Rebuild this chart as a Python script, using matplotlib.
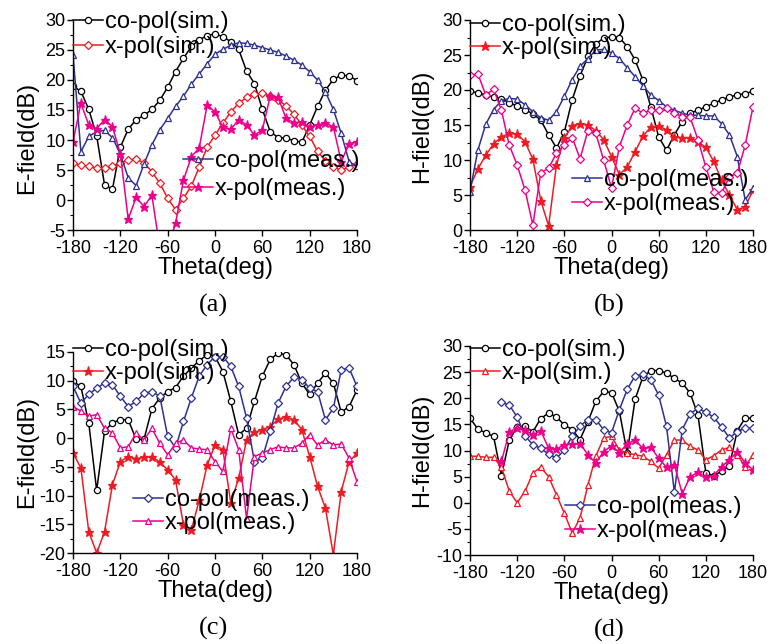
import numpy as np
import matplotlib.pyplot as plt
from matplotlib.ticker import MultipleLocator

plt.rcParams['font.family'] = ['Liberation Sans', 'DejaVu Sans']
plt.rcParams['axes.unicode_minus'] = False

# angle grid (deg), one sample every 10 degrees
theta = np.arange(-180, 181, 10)
nan = np.nan

# (a) E-plane, case 1
a_co_sim = [19, 18.1, 15.1, 10.7, 2.5, 1.8, 8.8, 11.8, 13.4, 14.1,
            15.1, 16.6, 18.8, 21.4, 23.6, 25.6, 26.7, 27.4, 27.7, 27.2,
            26.4, 25.1, 21.5, 19.4, 15.1, 11.4, 10.4, 10.3, 9.9, 9.6,
            12.5, 15.6, 18.3, 20.1, 20.8, 20.7, 19.9]
a_x_sim = [6.1, 5.8, 5.6, 5.3, 5.3, 5.7, 6.1, 6.7, 6.8, 6.2,
           4.7, 2.8, 0.3, -1.6, 0.3, 2.3, 5.5, 8.8, 10.8, 12.8,
           14.7, 16.1, 17.1, 17.7, 17.8, 17.3, 16.7, 15.7, 14.3, 12.5,
           10.6, 8.1, 6.5, 5.5, 5.0, 5.5, 6.0]
a_co_meas = [24.2, 8.05, 10.6, 11.4, 11.6, 10.4, 7.7, 3.7, 2.4, 6.0,
             9.2, 11.7, 13.6, 15.6, 17.3, 19.3, 21.0, 22.7, 24.3, 25.1,
             25.8, 26.2, 26.1, 25.8, 25.4, 25.0, 24.6, 24.0, 23.3, 22.5,
             21.4, 20.0, 18.0, 15.1, 11.1, 6.4, 5.6]
a_x_meas = [9.7, 16.1, 12.5, 11.9, 13.4, 12.2, 7.7, -3.2, 0.45, -1.1,
            0.8, -8, -8, -3.9, 3.3, 7.2, 8.7, 15.8, 14.7, 12.1,
            11.8, 13.4, 12.5, 10.8, 11.7, 17.3, 17.1, 13.6, 12.9, 13.0,
            12.2, 12.5, 12.8, 12.2, 6.4, 9.4, 9.7]

# (b) H-plane, case 1
b_co_sim = [19.8, 19.6, 19.3, 19.0, 18.7, 18.2, 17.7, 17.2, 16.6, 15.7,
            13.6, 11.7, 14.0, 18.6, 22.0, 24.8, 26.6, 27.4, 27.6, 27.5,
            26.2, 24.3, 21.4, 17.6, 13.3, 11.4, 13.6, 15.5, 16.7, 17.1,
            17.6, 18.1, 18.6, 19.0, 19.3, 19.5, 19.8]
b_x_sim = [6.2, 8.7, 10.7, 12.3, 13.3, 13.8, 13.7, 12.6, 10.1, 4.2,
           0.6, 9.3, 13.1, 14.9, 15.2, 15.0, 14.2, 12.9, 10.5, 7.9,
           9.0, 11.2, 13.4, 14.7, 14.9, 14.3, 13.3, 13.2, 13.2, 12.6,
           11.8, 9.8, 7.1, 5.0, 2.9, 3.3, 5.7]
b_co_meas = [5.5, 11.4, 15.1, 17.2, 18.5, 18.8, 18.7, 17.9, 16.9, 16.0,
             15.7, 16.9, 19.1, 21.5, 23.4, 24.5, 25.7, 25.8, 25.3, 24.5,
             23.2, 21.9, 20.6, 19.3, 18.5, 17.6, 17.1, 16.7, 16.4, 16.4,
             16.3, 16.3, 15.2, 13.6, 10.5, 4.3, 6.0]
b_x_meas = [22.1, 22.3, 19.3, 20.1, 17.1, 12.1, 9.3, 5.7, 0.7, 8.2,
            8.8, 11.0, 12.1, 13.2, 10.2, 14.2, 13.8, 10.0, 6.0, 11.9,
            15.0, 17.4, 16.7, 17.1, 17.2, 17.4, 16.7, 16.2, 16.1, 12.9,
            9.0, 5.5, 5.3, 7.6, 8.1, 12.1, 17.6]

# (c) E-plane, case 2
c_co_sim = [9.9, 9.0, 2.6, -9.1, 1.2, 2.7, 3.2, 3.2, -0.2, -0.2,
            5.1, 7.0, 8.1, 8.8, 10.8, 12.2, 13.5, 14.5, 14.2, 11.6,
            6.4, 0.6, 1.7, 6.4, 10.8, 13.7, 14.8, 14.5, 12.8, 9.6,
            7.6, 9.6, 11.3, 9.6, 4.5, 5.5, 8.4]
c_x_sim = [-2.6, -5.2, -16.3, -20, -16.3, -8.1, -4.1, -3.2, -3.6, -3.3,
           -3.2, -4.2, -5.5, -7.3, -15.1, -16.0, -10.8, -4.7, -1.2, -2.0,
           -11.3, -7.0, -0.3, 1.0, 1.5, 2.0, 3.3, 3.7, 3.2, 1.5,
           -3.2, -8.4, -12.2, -20.3, -9.3, -4.1, -2.6]
c_co_meas = [9.0, 6.1, 7.6, 8.7, 9.6, 9.3, 7.3, 5.5, 6.4, 7.8,
             8.1, 7.3, 0.3, -1.7, 2.9, 7.0, 10.8, 12.8, 14.2, 14.2,
             12.5, 9.0, 3.5, -4.1, -3.5, 1.2, 6.1, 9.0, 10.6, 10.2,
             8.7, 8.1, 3.2, 5.2, 11.9, 12.2, 9.0]
c_x_meas = [5.5, 4.7, 3.8, 4.1, 1.7, 0.9, -1.7, -1.5, 0.9, -0.3,
            1.7, -0.9, -2.9, -0.9, -0.3, -1.7, -1.9, -2.0, -4.1, -5.8,
            1.7, -2.0, -14.0, -3.2, -2.6, -2.0, -1.5, -1.7, -1.7, -0.9,
            0.6, -1.2, -0.3, -1.2, -1.0, -3.5, -7.6]

# (d) H-plane, case 2
d_co_sim = [16.2, 14.1, 13.4, 12.7, 5.2, 12.0, 14.5, 14.6, 13.6, 16.1,
            17.2, 16.4, 14.9, 14.0, 12.1, 15.5, 19.4, 21.3, 21.1, 17.5,
            9.5, 19.8, 24.1, 25.3, 25.3, 24.8, 23.8, 22.9, 21.0, 16.8,
            5.7, 5.2, 6.0, 7.1, 13.8, 16.2, 16.2]
d_x_sim = [8.9, 8.9, 8.7, 8.7, 6.8, 2.2, 0.0, 2.2, 5.7, 6.8,
           5.0, 1.5, -2.0, -5.8, -2.9, 3.4, 8.9, 12.4, 12.7, 10.1,
           9.5, 9.2, 8.9, 7.9, 6.6, 9.2, 12.0, 12.0, 10.8, 10.1,
           8.2, 9.0, 10.1, 10.6, 9.2, 6.9, 9.2]
d_co_meas = [nan, nan, nan, nan, 19.2, 18.7, 16.4, 12.8, 11.1, 10.4,
             9.3, 8.5, 10.1, 12.7, 14.7, 15.9, 15.9, 14.0, 13.4, 17.8,
             21.7, 24.3, 24.6, 23.5, 20.6, 14.6, 2.0, 14.0, 17.0, 18.1,
             17.3, 16.4, 14.5, 12.4, 13.6, 14.3, 14.3]
d_x_meas = [nan, nan, nan, nan, 7.9, 13.6, 14.3, 13.9, 13.0, 13.8,
            10.4, 10.3, 11.1, 11.3, 11.3, 9.2, 7.6, 9.8, 10.9, 9.6,
            11.3, 12.0, 10.4, 10.6, 8.5, 6.8, 7.3, 1.7, 5.0, 5.8,
            4.9, 5.2, 6.9, 8.2, 9.8, 7.6, 6.3]

labels = ['co-pol(sim.)', 'x-pol(sim.)', 'co-pol(meas.)', 'x-pol(meas.)']

BLACK = '#000000'
BLUE = '#2e3192'
RED = '#ed1c24'
MAGENTA = '#ec008c'

W, H = 767, 644


def fx(px):
    return px / W


def fy(py):
    return 1 - py / H


def style(marker, color):
    hollow = marker in ('o', '^', 'D')
    size = {'o': 4.5, '^': 5.0, 'D': 4.2, '*': 6.5}[marker]
    return dict(color=color, marker=marker, markersize=size, lw=1.1,
                markerfacecolor='white' if hollow else color,
                markeredgecolor=color, markeredgewidth=0.9)


panels = [
    # axes box in px (left, top, right, bottom), legend anchors in px
    dict(rect=(73, 20, 357, 230), ylim=(-5, 30), ylabel='E-field(dB)', cap='(a)',
         data=[a_co_sim, a_x_sim, a_co_meas, a_x_meas],
         mk=['o', 'D', '^', '*'], leg=[(73, 11), (183, 150)], lsp=[0.12, 0.25],
         ylab=(27, 138)),
    dict(rect=(470, 20, 753, 230), ylim=(0, 30), ylabel='H-field(dB)', cap='(b)',
         data=[b_co_sim, b_x_sim, b_co_meas, b_x_meas],
         mk=['o', '*', '^', 'D'], leg=[(470, 14), (572, 169)], lsp=[0.05, 0.1],
         ylab=(422, 126)),
    dict(rect=(73, 352, 357, 553), ylim=(-20, 15), ylabel='E-field(dB)', cap='(c)',
         data=[c_co_sim, c_x_sim, c_co_meas, c_x_meas],
         mk=['o', '*', 'D', '^'], leg=[(73, 339), (133, 489)], lsp=[0.06, 0.06],
         ylab=(27, 452)),
    dict(rect=(470, 346, 753, 555), ylim=(-10, 30), ylabel='H-field(dB)', cap='(d)',
         data=[d_co_sim, d_x_sim, d_co_meas, d_x_meas],
         mk=['o', '^', 'D', '*'], leg=[(470, 339), (565, 496)], lsp=[0.06, 0.1],
         ylab=(422, 450)),
]

colors = [BLACK, RED, BLUE, MAGENTA]

fig = plt.figure(figsize=(W / 100, H / 100), dpi=100)

for p in panels:
    l, t, r, b = p['rect']
    ax = fig.add_axes([fx(l), fy(b), (r - l) / W, (b - t) / H])
    lines = []
    for vals, m, c, lab in zip(p['data'], p['mk'], colors, labels):
        ln, = ax.plot(theta, vals, label=lab, **style(m, c))
        lines.append(ln)

    ax.set_xlim(-180, 180)
    ax.set_ylim(*p['ylim'])
    ax.set_xticks(np.arange(-180, 181, 60))
    ax.yaxis.set_major_locator(MultipleLocator(5))
    ax.yaxis.set_minor_locator(MultipleLocator(2.5))
    for s in ('top', 'right'):
        ax.spines[s].set_visible(False)
    for s in ('left', 'bottom'):
        ax.spines[s].set_linewidth(1.0)
    ax.tick_params(which='major', direction='out', length=4, width=1.0,
                   labelsize=13, pad=1.5)
    ax.tick_params(axis='x', which='major', pad=3)
    ax.tick_params(which='minor', direction='out', length=2.5, width=0.8)

    fig.text(fx((l + r) / 2), fy(b + 38), 'Theta(deg)', ha='center', va='center',
             fontsize=17)
    fig.text(fx(p['ylab'][0]), fy(p['ylab'][1]), p['ylabel'], rotation=90,
             ha='center', va='center', fontsize=17)
    fig.text(fx((l + r) / 2 - 2), fy(b + 75), p['cap'], ha='center', va='center',
             fontsize=19, family='Liberation Serif')

    legs = []
    for (px, py), hs, sp in zip(p['leg'], [lines[:2], lines[2:]], p['lsp']):
        lg = ax.legend(handles=hs, loc='upper left', bbox_to_anchor=(fx(px), fy(py)),
                       bbox_transform=fig.transFigure, frameon=False, fontsize=17,
                       handlelength=1.25, handletextpad=0.1, labelspacing=sp,
                       borderpad=0, borderaxespad=0, numpoints=1)
        legs.append(lg)
    ax.add_artist(legs[0])

fig.savefig('out.png', dpi=100)
